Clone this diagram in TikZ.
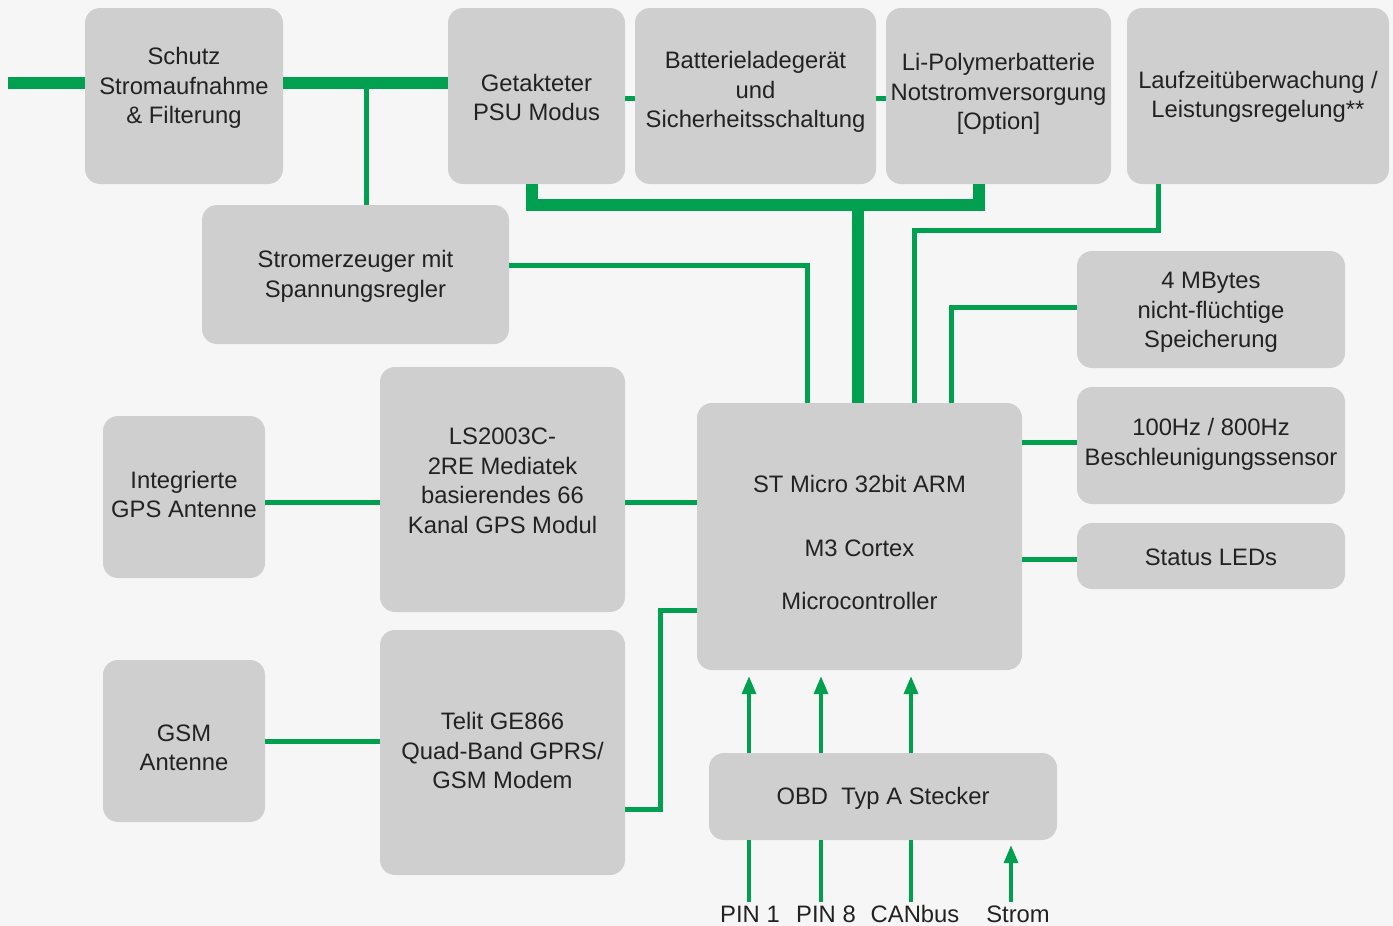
\documentclass[tikz,border=0pt]{standalone}
\usepackage{fontspec}
\setmainfont{Liberation Sans}
\usetikzlibrary{arrows.meta,calc}
\definecolor{grn}{RGB}{0,160,80}
\definecolor{boxg}{RGB}{207,207,207}
\definecolor{bgc}{RGB}{246,246,246}
\definecolor{txtc}{RGB}{34,34,34}
\tikzset{
 blk/.style={fill=boxg, draw=none, rounded corners=15pt, inner sep=0pt},
 txt/.style={text=txtc, align=center, font=\fontsize{23.8pt}{29.5pt}\selectfont, inner sep=0pt},
 thk/.style={draw=grn, line width=12pt},
 thn/.style={draw=grn, line width=5pt},
 pinline/.style={draw=grn, line width=3.5pt},
 arr/.style={pinline, -{Triangle[length=18pt,width=14pt]}},
}
% name, x1, y1, x2, y2, text shift (up), text
\newcommand\mkblk[7]{%
 \node[blk, minimum width={#4pt-#2pt}, minimum height={#5pt-#3pt}] (#1) at ({(#2+#4)/2},{(#3+#5)/2}) {};
 \node[txt] (#1-t) at ([yshift=#6pt]#1.center) {#7};
}
\begin{document}
\begin{tikzpicture}[x=1pt,y=-1pt]
\fill[bgc] (0,0) rectangle (1393,926);
\useasboundingbox (0,0) rectangle (1393,926);

\mkblk{schutz}{85}{8}{283}{184}{8}{Schutz\\Stromaufnahme\\\& Filterung}
\mkblk{psu}{448}{8}{625}{184}{-1.5}{Getakteter\\PSU Modus}
\mkblk{batt}{635}{8}{876}{184}{4}{Batterieladegerät\\und\\Sicherheitsschaltung}
\mkblk{lipo}{886}{8}{1111}{184}{2}{Li-Polymerbatterie\\Notstromversorgung\\{}[Option]}
\mkblk{lauf}{1127}{8}{1389}{184}{-1}{Laufzeitüberwachung /\\Leistungsregelung**}
\mkblk{strom}{202}{205}{509}{344}{-2}{Stromerzeuger mit\\Spannungsregler}
\mkblk{mem}{1077}{251}{1345}{368}{-3}{4 MBytes\\nicht-flüchtige\\Speicherung}
\mkblk{acc}{1077}{387}{1345}{504}{1}{100Hz / 800Hz\\Beschleunigungssensor}
\mkblk{led}{1077}{523}{1345}{589}{-1}{Status LEDs}
\mkblk{gpsant}{103}{416}{265}{578}{2.5}{Integrierte\\GPS Antenne}
\mkblk{gps}{380}{367}{625}{612}{8.5}{LS2003C-\\2RE Mediatek\\basierendes 66\\Kanal GPS Modul}
\mkblk{st}{697}{403}{1022}{670}{-6}{ST Micro 32bit ARM\\[34.5pt]M3 Cortex\\[23.5pt]Microcontroller}
\mkblk{gsmant}{103}{660}{265}{822}{-7}{GSM\\Antenne}
\mkblk{telit}{380}{630}{625}{875}{2}{Telit GE866\\Quad-Band GPRS/\\GSM Modem}
\mkblk{obd}{709}{753}{1057}{840}{-1.5}{OBD\ \ Typ A Stecker}

% power input
\coordinate (in) at (8,83);
\coordinate (j1) at (366,83);
\draw[thk] (in) -- (in -| schutz.west);
\draw[thk] (in -| schutz.east) -- (in -| psu.west);
\draw[thn] (j1) -- (j1 |- strom.north);
% stubs between top blocks
\draw[thn] ([yshift=-2.5pt]psu.east) -- ([yshift=-2.5pt]batt.west);
\draw[thn] ([yshift=-2.5pt]batt.east) -- ([yshift=-2.5pt]lipo.west);
% power bus bracket
\coordinate (bus) at (858,205);
\draw[thk] ([xshift=-4.5pt]psu.south) |- (bus) -| ([xshift=-19.5pt]lipo.south);
\draw[thk] (bus) -- (bus |- st.north);
% thin connections to microcontroller
\draw[thn] ([yshift=9pt]strom.east) -| ([xshift=-52pt]st.north);
\coordinate (c2) at (914.5,230.5);
\draw[thn] ([xshift=-100pt]lauf.south) |- (c2) -- (c2 |- st.north);
\draw[thn] ([yshift=2pt]mem.west) -| ([xshift=92pt]st.north);
\draw[thn] ([yshift=3.5pt]acc.west) -- ([yshift=94.5pt]st.east);
\draw[thn] ([yshift=-3pt]led.west) -- ([yshift=-22.5pt]st.east);
\draw[thn] ([yshift=-5.5pt]gpsant.east) -- ([yshift=-13pt]gps.west);
\draw[thn] ([yshift=-13pt]gps.east) -- ([yshift=34pt]st.west);
\draw[thn] ([yshift=-74pt]st.west) -- ++(-36.5,0) |- ([yshift=-57pt]telit.east);
\draw[thn] (gsmant.east) -- (gsmant.east -| telit.west);

% OBD pins
\coordinate (p1) at (749,902);
\coordinate (p2) at (821,902);
\coordinate (p3) at (911,902);
\coordinate (p4) at (1011,902);
\foreach \p in {p1,p2,p3}{
 \draw[pinline] (\p) -- (\p |- obd.south);
 \draw[arr, shorten >=6pt] (\p |- obd.north) -- (\p |- st.south);
}
\draw[arr, shorten >=5pt] (p4) -- (p4 |- obd.south);
\node[txt, anchor=base] (l1) at (750,922) {PIN 1};
\node[txt, anchor=base] (l2) at (826,922) {PIN 8};
\node[txt, anchor=base] (l3) at (915,922) {CANbus};
\node[txt, anchor=base] (l4) at (1018,922) {Strom};
\end{tikzpicture}
\end{document}
